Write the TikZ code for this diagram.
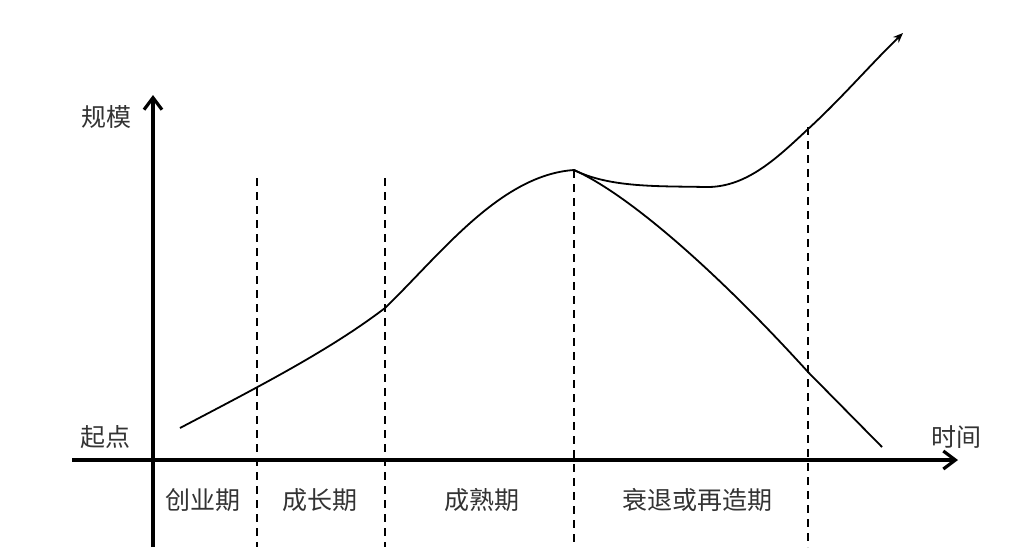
\documentclass[tikz,border=0pt]{standalone}
\usepackage{fontspec}
\newfontfamily\cjk{Noto Sans CJK SC}
\usetikzlibrary{arrows.meta}
\tikzset{
    axis/.style={line width=2pt,-{Straight Barb[length=6pt,width=9pt,line width=1.6pt]}},
    stage/.style={dashed,line width=0.7pt,dash pattern=on 4pt off 3pt},
    curve/.style={line width=0.9pt},
    lbl/.style={font=\cjk\fontsize{12.5}{14}\selectfont,text=black!80,inner sep=0pt}
}
\begin{document}
\begin{tikzpicture}[x=0.5pt,y=-0.5pt]
                \useasboundingbox (0,0) rectangle (1033,547);

                % axes
                \coordinate (o) at (153,547);
                \coordinate (ytip) at (153,95);
                \coordinate (xl) at (72,460);
                \coordinate (xtip) at (958,460);
                \draw[axis] (o) -- (ytip);
                \draw[axis] (xl) -- (xtip);

                \node[lbl] (ylab) at (106,117) {规模};
                \node[lbl] (start) at (105,437) {起点};
                \node[lbl] (xlab) at (956,437) {时间};

                % stage borders
                \coordinate (d1t) at (257,178); \coordinate (d1b) at (257,547);
                \coordinate (d2t) at (385,178); \coordinate (d2b) at (385,547);
                \coordinate (d3t) at (574,170); \coordinate (d3b) at (574,547);
                \coordinate (d4t) at (808,127); \coordinate (d4b) at (808,547);
                \draw[stage] (d1t) -- (d1b);
                \draw[stage] (d2t) -- (d2b);
                \draw[stage] (d3t) -- (d3b);
                \draw[stage] (d4t) -- (d4b);

                \node[lbl] (s1) at (203,500) {创业期};
                \node[lbl] (s2) at (320,500) {成长期};
                \node[lbl] (s3) at (482,500) {成熟期};
                \node[lbl] (s4) at (697,500) {衰退或再造期};

                % growth curve
                \coordinate (c0) at (180,428);
                \coordinate (c1) at (385,308);
                \coordinate (peak) at (574,170);
                \coordinate (flat) at (705,187);
                \coordinate (up) at (807,130);
                \coordinate (uend) at (903,33);
                \coordinate (down) at (808,372);
                \coordinate (dend) at (882,447);

                \draw[curve] (c0) .. controls (260,386) and (330,350) .. (c1)
                    .. controls (440,255) and (500,175) .. (peak);
                \draw[curve,-{Stealth[length=5pt,width=4pt]}] (peak) .. controls (610,188) and (660,186) .. (flat)
                    .. controls (745,188) and (775,160) .. (up)
                    .. controls (840,100) and (870,65) .. (uend);
                \draw[curve] (peak) .. controls (630,195) and (720,275) .. (down)
                    -- (dend);
            \end{tikzpicture}
\end{document}
